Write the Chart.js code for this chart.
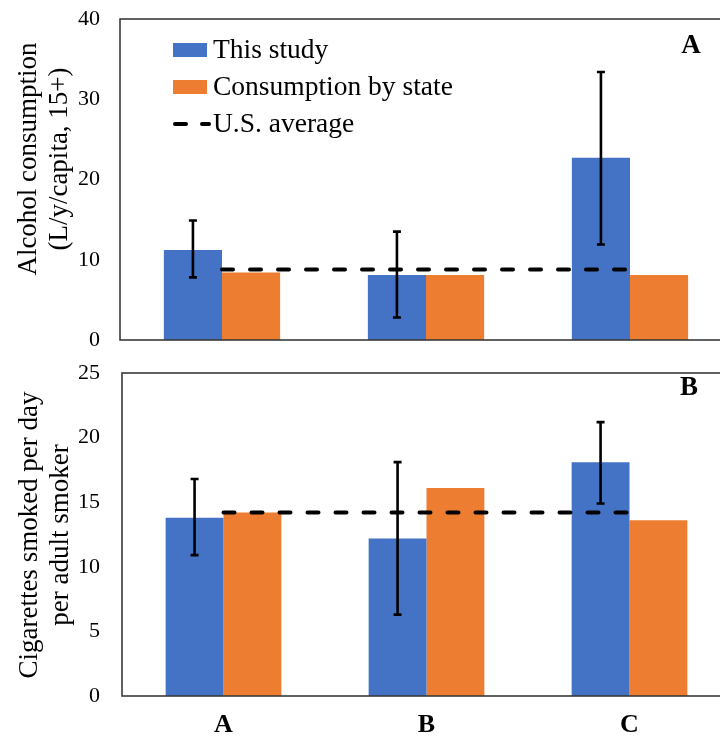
<!DOCTYPE html>
<html>
<head>
<meta charset="utf-8">
<script src="https://cdn.jsdelivr.net/npm/chart.js@4.4.1/dist/chart.umd.min.js"></script>
<style>
  html, body { margin: 0; padding: 0; background: #fff; overflow: hidden; width: 720px; height: 740px; }
  #wrap { position: relative; width: 740px; height: 740px; }
  canvas { position: absolute; left: 0; display: block; }
  #c1 { top: 0; }
  #c2 { top: 360px; }
</style>
</head>
<body>
<div id="wrap">
  <canvas id="c1" width="740" height="360"></canvas>
  <canvas id="c2" width="740" height="380"></canvas>
</div>
<script>
// Categories and series
const categories = ['A', 'B', 'C'];
const seriesNames = ['This study', 'Consumption by state', 'U.S. average'];

// Alcohol consumption (L/y/capita, 15+)
const alcoholStudy = [11.2, 8.1, 22.7];
const alcoholStudyLow = [7.8, 2.8, 11.9];
const alcoholStudyHigh = [14.9, 13.5, 33.4];
const alcoholState = [8.4, 8.1, 8.1];
const alcoholUS = [8.8, 8.8, 8.8];
const alcoholTicks = [0, 10, 20, 30, 40];

// Cigarettes smoked per day per adult smoker
const cigStudy = [13.8, 12.2, 18.1];
const cigStudyLow = [10.9, 6.3, 14.9];
const cigStudyHigh = [16.8, 18.1, 21.2];
const cigState = [14.2, 16.1, 13.6];
const cigUS = [14.2, 14.2, 14.2];
const cigTicks = [0, 5, 10, 15, 20, 25];

const SERIF = "'Liberation Serif', 'Times New Roman', serif";
const BLUE = '#4472C4';
const ORANGE = '#ED7D31';
const DASH = [11, 17];

function makePanel(canvasId, opts) {
  const framePlugin = {
    id: 'frame',
    afterDatasetsDraw(chart) {
      const { ctx, chartArea: a } = chart;
      ctx.save();
      ctx.strokeStyle = '#3a3a3a';
      ctx.lineWidth = 1.6;
      ctx.strokeRect(a.left, a.top, a.right - a.left, a.bottom - a.top);
      ctx.restore();
    }
  };

  const errorBarPlugin = {
    id: 'errorBars',
    afterDatasetsDraw(chart) {
      const { ctx } = chart;
      const meta = chart.getDatasetMeta(1);
      const y = chart.scales.y;
      ctx.save();
      ctx.strokeStyle = '#000';
      ctx.lineWidth = 2.6;
      meta.data.forEach((bar, i) => {
        const yLo = y.getPixelForValue(opts.low[i]);
        const yHi = y.getPixelForValue(opts.high[i]);
        ctx.beginPath();
        ctx.moveTo(bar.x, yLo); ctx.lineTo(bar.x, yHi);
        ctx.moveTo(bar.x - 4, yLo); ctx.lineTo(bar.x + 4, yLo);
        ctx.moveTo(bar.x - 4, yHi); ctx.lineTo(bar.x + 4, yHi);
        ctx.stroke();
      });
      ctx.restore();
    }
  };

  const textPlugin = {
    id: 'panelText',
    afterDraw(chart) {
      const { ctx } = chart;
      ctx.save();
      ctx.fillStyle = '#000';
      // axis title, two rotated lines
      ctx.font = `27px ${SERIF}`;
      ctx.textAlign = 'center';
      ctx.textBaseline = 'middle';
      opts.title.forEach((line, k) => {
        ctx.save();
        ctx.translate(opts.titleX[k], opts.titleY);
        ctx.rotate(-Math.PI / 2);
        ctx.fillText(line, 0, 0);
        ctx.restore();
      });
      // panel letter
      ctx.font = `bold 27px ${SERIF}`;
      ctx.fillText(opts.panel, opts.panelX, opts.panelY);
      // legend
      if (opts.legend) {
        const ds = chart.data.datasets;
        const L = opts.legend;
        ctx.font = `27.5px ${SERIF}`;
        ctx.textAlign = 'left';
        const rows = [ds[1], ds[2], ds[0]];
        rows.forEach((d, k) => {
          const cy = L.y + k * L.gap;
          if (d.type === 'line') {
            ctx.save();
            ctx.strokeStyle = '#000';
            ctx.lineWidth = 4;
            ctx.lineCap = 'round';
            ctx.beginPath();
            ctx.moveTo(L.x + 2, cy); ctx.lineTo(L.x + 13, cy);
            ctx.moveTo(L.x + 29, cy); ctx.lineTo(L.x + 36, cy);
            ctx.stroke();
            ctx.restore();
          } else {
            ctx.fillStyle = d.backgroundColor;
            ctx.fillRect(L.x, cy - 7, 34, 14);
          }
          ctx.fillStyle = '#000';
          ctx.fillText(d.label, L.x + 40, cy + 1);
        });
      }
      ctx.restore();
    }
  };

  return new Chart(document.getElementById(canvasId), {
    type: 'bar',
    data: {
      labels: categories,
      datasets: [
        {
          type: 'line', label: seriesNames[2], data: opts.us,
          borderColor: '#000', borderWidth: 4, borderDash: DASH,
          borderCapStyle: 'round', pointRadius: 0, fill: false, order: 0
        },
        { label: seriesNames[0], data: opts.study, backgroundColor: BLUE, borderWidth: 0, order: 1 },
        { label: seriesNames[1], data: opts.state, backgroundColor: ORANGE, borderWidth: 0, order: 1 }
      ]
    },
    options: {
      responsive: false,
      animation: false,
      devicePixelRatio: 1,
      layout: { padding: opts.padding },
      datasets: { bar: { barPercentage: 1.0, categoryPercentage: 0.57 } },
      plugins: { legend: { display: false }, tooltip: { enabled: false } },
      scales: {
        x: {
          display: opts.showX,
          grid: { display: false, drawTicks: false },
          border: { display: false },
          ticks: { color: '#000', padding: 14, font: { family: SERIF, size: 26, weight: 'bold' } },
          afterFit(s) { if (opts.showX) s.height = opts.xHeight; }
        },
        y: {
          min: opts.ticks[0],
          max: opts.ticks[opts.ticks.length - 1],
          afterBuildTicks(s) { s.ticks = opts.ticks.map(v => ({ value: v })); },
          grid: { display: false, drawTicks: false },
          border: { display: false },
          ticks: { color: '#000', padding: opts.tickPad, font: { family: SERIF, size: 22 } },
          afterFit(s) {
            s.width = opts.yWidth;
            // plot box position is set by the layout padding alone
            s.paddingTop = 0;
            s.paddingBottom = 0;
          }
        }
      }
    },
    plugins: [framePlugin, errorBarPlugin, textPlugin]
  });
}

makePanel('c1', {
  study: alcoholStudy, low: alcoholStudyLow, high: alcoholStudyHigh,
  state: alcoholState, us: alcoholUS, ticks: alcoholTicks,
  padding: { left: 0, right: 8, top: 19, bottom: 20 },
  yWidth: 120, tickPad: 20, showX: false,
  title: ['Alcohol consumption', '(L/y/capita, 15+)'], titleX: [29, 60], titleY: 159,
  panel: 'A', panelX: 691, panelY: 46,
  legend: { x: 173, y: 50, gap: 37 }
});

makePanel('c2', {
  study: cigStudy, low: cigStudyLow, high: cigStudyHigh,
  state: cigState, us: cigUS, ticks: cigTicks,
  padding: { left: 0, right: 9, top: 13, bottom: 0 },
  yWidth: 122, tickPad: 22, showX: true, xHeight: 44,
  title: ['Cigarettes smoked per day', 'per adult smoker'], titleX: [30, 61], titleY: 175,
  panel: 'B', panelX: 689, panelY: 28,
  legend: null
});
</script>
</body>
</html>
